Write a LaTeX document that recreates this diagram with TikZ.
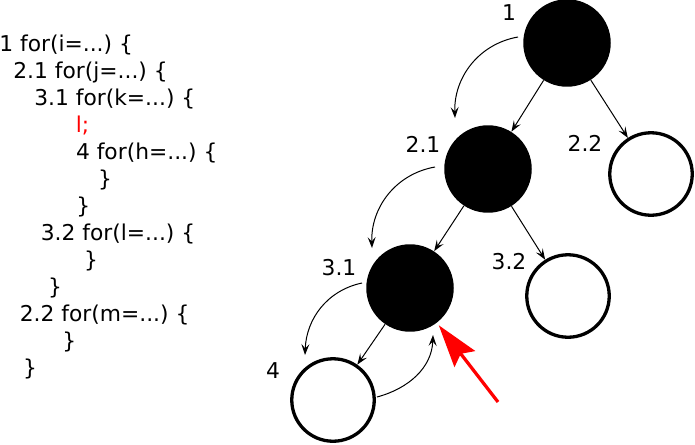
\documentclass[tikz,border=0pt]{standalone}
\usepackage{fontspec}
\setmainfont{DejaVu Sans}
\usetikzlibrary{arrows.meta}
\frenchspacing

\tikzset{
	blacknode/.style={circle,fill=black,minimum size=1.75cm,inner sep=0pt},
	whitenode/.style={circle,draw=black,line width=0.066cm,fill=white,minimum size=1.65cm,inner sep=0pt},
	lbl/.style={inner sep=0pt},
	code/.style={inner sep=0pt,anchor=base west},
	treearrow/.style={line width=0.02cm,-{Stealth[length=0.22cm,width=0.16cm,inset=0.09cm]}},
	pointer/.style={red,line width=0.065cm,shorten >=0.06cm,-{Stealth[length=0.85cm,width=0.52cm,inset=0.13cm]}}
}

\begin{document}
\begin{tikzpicture}[x=0.02cm,y=0.02cm,font=\fontsize{12.4pt}{14pt}\selectfont]
		\useasboundingbox (0,0) rectangle (695,444);
		% the loop nest
		\foreach \i/\x/\t in {0/-1/{1 for(i=...) \{},1/13/{2.1 for(j=...) \{},2/34/{3.1 for(k=...) \{},3/75.5/{\textcolor{red}{l;}},4/75.7/{4 for(h=...) \{},5/97.7/{\}},6/76/{\}},7/40.5/{3.2 for(l=...) \{},8/83.7/{\}},9/47.7/{\}},10/19.5/{2.2 for(m=...) \{},11/62/{\}},12/22.7/{\}}}
			{
			\node[code] (code\i) at (\x,{393-27.08*\i}) {\t};
			}

		% the tree
		\node[blacknode] (n1) at (567,401) {};
		\node[blacknode] (n21) at (488,275) {};
		\node[whitenode] (n22) at (651,270) {};
		\node[blacknode] (n31) at (410,156) {};
		\node[whitenode] (n32) at (568,148) {};
		\node[whitenode] (n4) at (333,44) {};

		\node[lbl] (l1) at (509,431) {1};
		\node[lbl] (l21) at (423,300) {2.1};
		\node[lbl] (l22) at (585,301) {2.2};
		\node[lbl] (l31) at (339,176) {3.1};
		\node[lbl] (l32) at (509,182) {3.2};
		\node[lbl] (l4) at (273,73) {4};

		\draw[treearrow] (n1)--(n21);
		\draw[treearrow] (n1)--(n22);
		\draw[treearrow] (n21)--(n31);
		\draw[treearrow] (n21)--(n32);
		\draw[treearrow] (n31)--(n4);

		% order of the walk
		\draw[treearrow] ([shift={(-49,6)}]n1.center) to[out=190,in=92] ([shift={(-33,51)}]n21.center);
		\draw[treearrow] ([shift={(-53,2)}]n21.center) to[out=190,in=92] ([shift={(-38,40)}]n31.center);
		\draw[treearrow] ([shift={(-48,5)}]n31.center) to[out=192,in=88] ([shift={(-28,45)}]n4.center);
		\draw[treearrow] ([shift={(44,3)}]n4.center) to[out=15,in=-92] ([shift={(23,-47)}]n31.center);

		\coordinate (redtail) at (498,42);
		\draw[pointer] (redtail)--(n31);

	\end{tikzpicture}
\end{document}
